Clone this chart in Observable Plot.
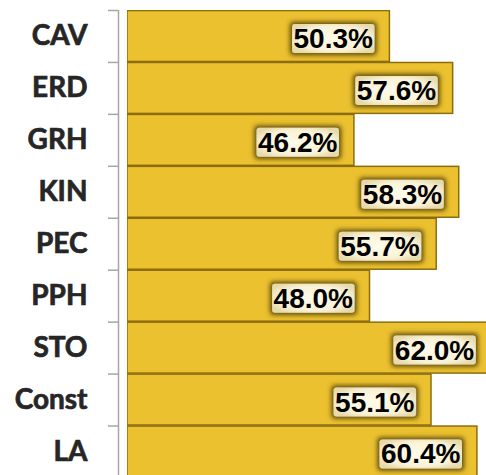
<!DOCTYPE html>
<html><head><meta charset="utf-8">
<script src="https://cdn.jsdelivr.net/npm/d3@7"></script>
<script src="https://cdn.jsdelivr.net/npm/@observablehq/plot@0.6"></script>
<style>
body{margin:0;background:#fff;overflow:hidden}
g[aria-label="y-axis tick label"] text{stroke:#262626;stroke-width:0.7px}
</style>
</head><body>
<div id="chart"></div>
<script>
const categories = ["CAV","ERD","GRH","KIN","PEC","PPH","STO","Const","LA"];
const values = [50.3,57.6,46.2,58.3,55.7,48.0,62.0,55.1,60.4];
const labels = values.map(v => v.toFixed(1) + "%");
const baseline = 20;
const xDomain = [20, 61.45];
const data = categories.map((c,i)=>({category:c, value:values[i], label:labels[i]}));

const chart = Plot.plot({
  width: 486, height: 475,
  marginLeft: 127, marginRight: 0, marginTop: 10, marginBottom: 0,
  x: {domain: xDomain, axis: null},
  y: {domain: categories, range: [9.5, 478], padding: 0.02, round: false, label: null},
  marks: [
    Plot.barX(data, {x1: baseline, x2: "value", y: "category", fill: "#ECC130", stroke: "#8C6D0D", strokeWidth: 1.5, clip: true}),
    Plot.ruleX([baseline], {dx: -9, stroke: "#A6A6A6", strokeWidth: 1.5}),
    Plot.axisY({tickSize: 10, text: null, label: null, dy: -26, dx: -9, stroke: "#A6A6A6", strokeWidth: 1.5}),
    Plot.axisY({tickSize: 0, tickPadding: 40, label: null, fontSize: 28, fontWeight: "bold", fontFamily: "Lato, sans-serif", fill: "#262626"}),
    Plot.text(data, {x: "value", y: "category", text: "label", textAnchor: "end", dx: -17, dy: 2.5,
      fontSize: 28, fontWeight: "bold", fontFamily: "'Liberation Sans Narrow', 'Arial Narrow', sans-serif", fill: "#000"})
  ]
});
document.getElementById("chart").append(chart);

chart.insertAdjacentHTML("afterbegin", `<defs>
<filter id="glow" x="-30%" y="-60%" width="160%" height="220%">
  <feMorphology in="SourceAlpha" operator="dilate" radius="2" result="d"/>
  <feGaussianBlur in="d" stdDeviation="2.4" result="b"/>
  <feFlood flood-color="#57450a" flood-opacity="1"/>
  <feComposite in2="b" operator="in" result="s"/>
  <feMerge><feMergeNode in="s"/><feMergeNode in="SourceGraphic"/></feMerge>
</filter>
<radialGradient id="cream" cx="50%" cy="50%" r="60%">
  <stop offset="0%" stop-color="#FFFBEA"/>
  <stop offset="70%" stop-color="#FAF2D6"/>
  <stop offset="100%" stop-color="#E6D9AA"/>
</radialGradient>
</defs>`);

chart.querySelectorAll('g[aria-label="text"] text').forEach(t => {
  const bb = t.getBBox();
  const r = document.createElementNS("http://www.w3.org/2000/svg", "rect");
  r.setAttribute("x", bb.x - 1.5);
  r.setAttribute("y", bb.y + 1);
  r.setAttribute("width", bb.width + 3);
  r.setAttribute("height", bb.height - 2);
  r.setAttribute("rx", 3);
  r.setAttribute("fill", "url(#cream)");
  r.setAttribute("filter", "url(#glow)");
  if (t.getAttribute("transform")) r.setAttribute("transform", t.getAttribute("transform"));
  t.parentNode.insertBefore(r, t);
});
</script>
</body></html>
